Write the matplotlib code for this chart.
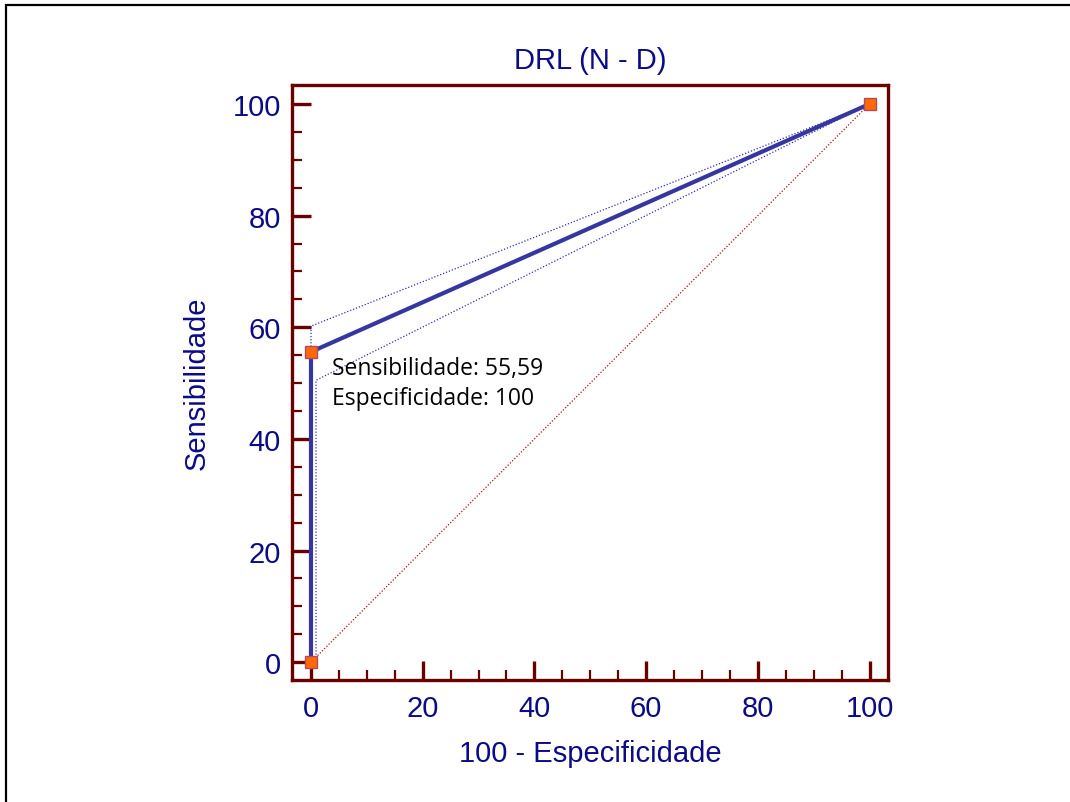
import matplotlib.pyplot as plt
from matplotlib.ticker import MultipleLocator
from matplotlib.patches import Rectangle

# ROC curve points (100 - specificity, sensitivity)
roc_x = [0, 0, 100]
roc_y = [0, 55.59, 100]

# confidence bounds
upper_x = [0, 0, 100]
upper_y = [0, 60.2, 100]
lower_x = [0, 0.9, 0.9, 100]
lower_y = [0, 0, 50.5, 100]

# reference diagonal
diag_x = [0, 100]
diag_y = [0, 100]

title = 'DRL (N - D)'
xlabel = '100 - Especificidade'
ylabel = 'Sensibilidade'
note = 'Sensibilidade: 55,59\nEspecificidade: 100'

text_color = '#0b0b86'
frame_color = '#6b0000'
line_color = '#3636a0'

plt.rcParams['font.family'] = ['Liberation Sans', 'DejaVu Sans']

fig = plt.figure(figsize=(10.7, 8.03), dpi=100)
ax = fig.add_axes([0.2729, 0.1519, 0.557, 0.741])

# outer frame of the figure
fig.patches.append(Rectangle((6 / 1070, -0.1), 1.2, 1.1 - 6 / 803, transform=fig.transFigure,
                             fill=False, edgecolor='black', linewidth=1.6))

ax.plot(diag_x, diag_y, color='#b01010', linestyle=(0, (1, 1.5)), linewidth=0.9)
ax.plot(upper_x, upper_y, color='#3030b0', linestyle=(0, (1, 1.5)), linewidth=0.9)
ax.plot(lower_x, lower_y, color='#3030b0', linestyle=(0, (1, 1.5)), linewidth=0.9)
ax.plot(roc_x, roc_y, color=line_color, linewidth=3.0, solid_capstyle='butt')
ax.plot(roc_x, roc_y, linestyle='none', marker='s', markersize=9,
        markerfacecolor='#ff6a00', markeredgecolor='#b04a6a', markeredgewidth=1.0)

ax.text(3.8, 54.8, note, fontsize=16.5, family=['Open Sans', 'DejaVu Sans'],
        color='black', va='top', ha='left', linespacing=1.3)

ax.set_xlim(-3.4, 103.3)
ax.set_ylim(-3.2, 103.4)
ax.xaxis.set_major_locator(MultipleLocator(20))
ax.xaxis.set_minor_locator(MultipleLocator(5))
ax.yaxis.set_major_locator(MultipleLocator(20))
ax.yaxis.set_minor_locator(MultipleLocator(5))

for s in ax.spines.values():
    s.set_color(frame_color)
    s.set_linewidth(2.4)

ax.tick_params(which='major', direction='in', length=14, width=2.4, color=frame_color,
               labelsize=21, labelcolor=text_color)
ax.tick_params(axis='x', which='major', pad=10)
ax.tick_params(axis='y', which='major', pad=8)
ax.tick_params(which='minor', direction='in', length=7, width=1.6, color=frame_color)

ax.set_title(title, fontsize=21, color=text_color, pad=12)
ax.set_xlabel(xlabel, fontsize=21, color=text_color, labelpad=12)
ax.set_ylabel(ylabel, fontsize=21, color=text_color, labelpad=16)

fig.savefig('out.png', dpi=100)
